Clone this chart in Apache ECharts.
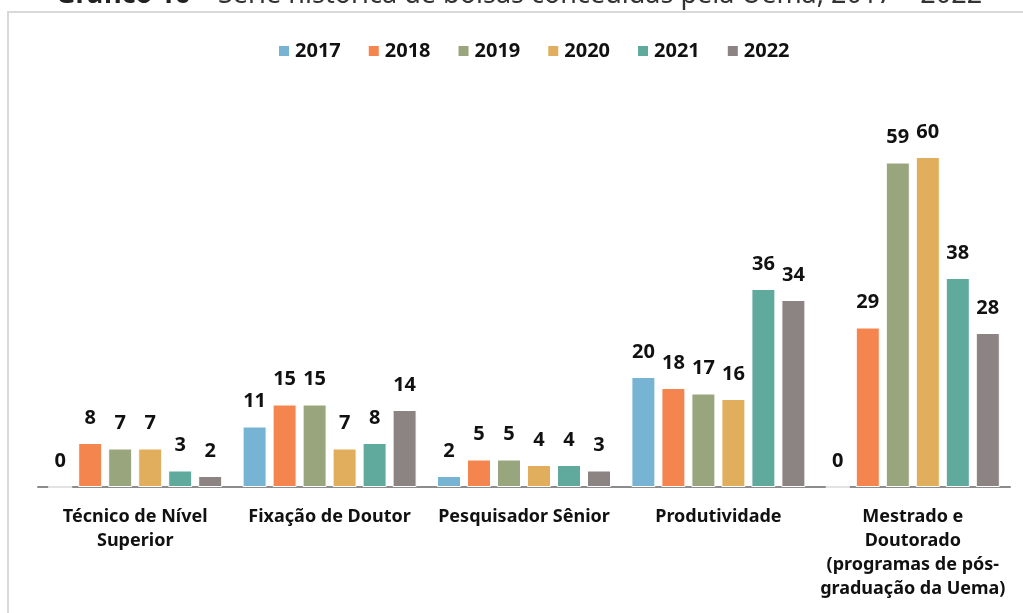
<!DOCTYPE html>
<html><head><meta charset="utf-8">
<script src="https://cdn.jsdelivr.net/npm/echarts@6/dist/echarts.min.js"></script>
<style>html,body{margin:0;padding:0;background:#fff}#c{width:1023px;height:613px}</style>
</head><body><div id="c"></div>
<script>
var categories = ['Técnico de Nível\nSuperior','Fixação de Doutor','Pesquisador Sênior','Produtividade','Mestrado e\nDoutorado\n(programas de pós-\ngraduação da Uema)'];
var years = ['2017','2018','2019','2020','2021','2022'];
var v2017 = [0, 11, 2, 20, 0];
var v2018 = [8, 15, 5, 18, 29];
var v2019 = [7, 15, 5, 17, 59];
var v2020 = [7, 7, 4, 16, 60];
var v2021 = [3, 8, 4, 36, 38];
var v2022 = [2, 14, 3, 34, 28];
var colors = ['#77b3d3','#f4854f','#99a67d','#e0ae5c','#5fa99d','#8c8383'];
var values = [v2017, v2018, v2019, v2020, v2021, v2022];
var FONT = "'Noto Sans',sans-serif";
var chart = echarts.init(document.getElementById('c'));
chart.setOption({
  animation:false,
  color: colors,
  graphic:[
    {type:'rect', shape:{x:8,y:12,width:1040,height:640}, style:{fill:'none',stroke:'#d9d9d9',lineWidth:2}},
    {type:'text', x:519, y:9, style:{text:'{b|Gráfico 16} – Série histórica de bolsas concedidas pela Uema, 2017 – 2022',
      align:'center', verticalAlign:'bottom', fontFamily:FONT, fontSize:27, fill:'#333',
      rich:{b:{fontFamily:FONT, fontSize:27, fontWeight:'bold', fill:'#222'}}}}
  ],
  legend:{top:36, left:272, itemWidth:12, itemHeight:12, itemGap:26, icon:'rect',
    textStyle:{fontFamily:FONT, fontWeight:'bold', fontSize:20, color:'#111'}},
  grid:{left:38, right:13, top:102, bottom:126},
  xAxis:{type:'category', data:categories,
    axisLine:{lineStyle:{color:'#8c8c8c', width:2}}, axisTick:{show:false},
    axisLabel:{fontFamily:FONT, fontWeight:'bold', fontSize:18, color:'#111', lineHeight:24, margin:18, interval:0}},
  yAxis:{type:'value', min:0, max:70, show:false, splitLine:{show:false}},
  series: years.map(function(y,i){return {
    name:y, type:'bar', data:values[i], barWidth:24, barGap:'25%',
    itemStyle:{borderColor:'#fff', borderWidth:1},
    label:{show:true, position:'top', distance:15, fontFamily:FONT, fontWeight:'bold', fontSize:20, color:'#111'}
  };})
});
</script></body></html>
